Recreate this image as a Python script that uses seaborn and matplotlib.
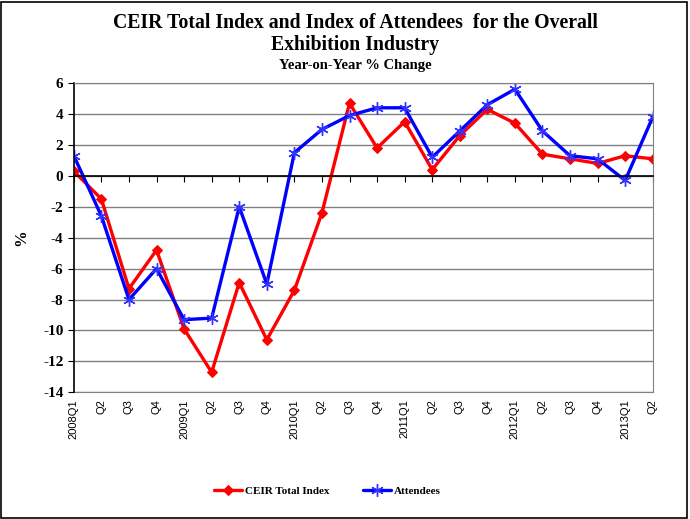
import matplotlib
matplotlib.use("Agg")
import matplotlib.pyplot as plt
import seaborn as sns
import pandas as pd

# quarterly year-on-year % change, 2008Q1 .. 2013Q2
quarters = ["2008Q1", "Q2", "Q3", "Q4",
            "2009Q1", "Q2", "Q3", "Q4",
            "2010Q1", "Q2", "Q3", "Q4",
            "2011Q1", "Q2", "Q3", "Q4",
            "2012Q1", "Q2", "Q3", "Q4",
            "2013Q1", "Q2"]
ceir_total = [0.3, -1.5, -7.3, -4.8, -9.9, -12.7, -6.9, -10.6, -7.4, -2.4, 4.7,
              1.8, 3.5, 0.4, 2.6, 4.3, 3.4, 1.4, 1.1, 0.8, 1.3, 1.1]
attendees = [1.3, -2.6, -8.0, -6.0, -9.3, -9.2, -2.0, -7.0, 1.5, 3.0, 3.9,
             4.4, 4.4, 1.2, 2.9, 4.6, 5.6, 2.9, 1.3, 1.1, -0.3, 3.8]

df = pd.DataFrame({"pos": range(len(quarters)),
                   "CEIR Total Index": ceir_total,
                   "Attendees": attendees})

sns.set_style("white")
plt.rcParams.update({"text.color": "black", "axes.labelcolor": "black",
                     "xtick.color": "black", "ytick.color": "black"})
serif = ["Liberation Serif", "DejaVu Serif"]

fig = plt.figure(figsize=(6.9, 5.19), dpi=100)
ax = fig.add_axes([0.107, 0.244, 0.839, 0.596])

sns.lineplot(data=df, x="pos", y="CEIR Total Index", ax=ax, color="#ff0000",
             linewidth=2.4, marker="D", markersize=5.5, markeredgecolor="#ff0000",
             label="CEIR Total Index")
sns.lineplot(data=df, x="pos", y="Attendees", ax=ax, color="#0000ff",
             linewidth=2.4, marker=(6, 2, 0), markersize=9, markeredgewidth=1,
             markeredgecolor="#3333ff", label="Attendees")

ax.set_xlim(0, len(quarters) - 1)
ax.set_ylim(-14, 6)
ax.set_yticks(range(-14, 7, 2))
ax.set_yticklabels([str(v) for v in range(-14, 7, 2)], fontfamily=serif,
                   fontweight="bold", fontsize=11)
ax.yaxis.grid(True, color="#808080", linewidth=1)
ax.set_axisbelow(True)
ax.tick_params(axis="y", direction="out", length=4, color="black", left=True)

# zero line carries the category ticks
ax.spines["bottom"].set_position(("data", 0))
ax.spines["bottom"].set_color("black")
ax.spines["bottom"].set_linewidth(1.2)
ax.set_xticks(df["pos"])
ax.tick_params(axis="x", direction="out", length=4, color="black", bottom=True,
               labelbottom=False)
ax.spines["left"].set_color("black")
ax.spines["left"].set_linewidth(1.2)
ax.spines["top"].set_color("#808080")
ax.spines["right"].set_color("#808080")

# category labels sit under the plot area
sec = ax.secondary_xaxis(0.0)
sec.set_xticks(df["pos"])
sec.set_xticklabels(quarters, rotation=90, fontsize=8, fontfamily="Liberation Sans")
sec.tick_params(length=0, pad=5)
sec.spines["bottom"].set_color("#808080")

ax.set_xlabel("")
ax.set_ylabel("%", fontfamily=serif, fontweight="bold", fontsize=12, labelpad=10)

ax.legend(loc="center", bbox_to_anchor=(0.475, 0.054), bbox_transform=fig.transFigure,
          ncol=2, frameon=False, columnspacing=3.0, handlelength=2.5, handletextpad=0.3,
          prop={"family": serif, "weight": "bold", "size": 8})

fig.text(0.515, 0.955, "CEIR Total Index and Index of Attendees  for the Overall",
         ha="center", va="center", fontfamily=serif, fontweight="bold", fontsize=14.2)
fig.text(0.515, 0.913, "Exhibition Industry", ha="center", va="center",
         fontfamily=serif, fontweight="bold", fontsize=14.2)
fig.text(0.515, 0.874, "Year-on-Year % Change", ha="center", va="center",
         fontfamily=serif, fontweight="bold", fontsize=10.5)

# outer chart border
fig.patches.append(plt.Rectangle((0.002, 0.002), 0.994, 0.994, transform=fig.transFigure,
                                 fill=False, edgecolor="black", linewidth=1.2))

fig.savefig("out.png", dpi=100)
